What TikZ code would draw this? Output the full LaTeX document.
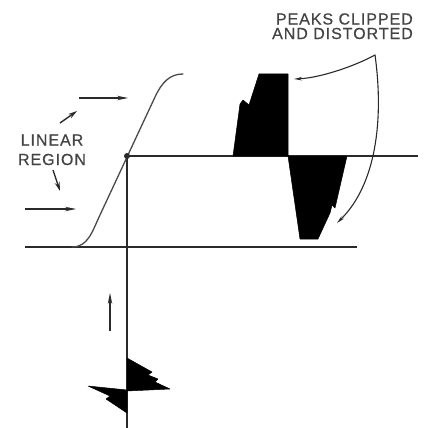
\documentclass[tikz,border=0pt]{standalone}
\usepackage{fontspec}
\newfontfamily\lblfont{Liberation Sans}[LetterSpace=6,FakeBold=0.6]
\usetikzlibrary{arrows.meta}
\definecolor{ink}{HTML}{2A2A2A}
\definecolor{txt}{HTML}{444444}
\tikzset{
  axis/.style={draw=ink, line width=1.1pt},
  curveline/.style={draw=ink!85, line width=1.3pt, line cap=round},
  pulse/.style={fill=black, draw=black, line width=0.5pt, line join=round},
  flowarrow/.style={draw=ink, line width=1.1pt, -{Stealth[length=11pt,width=4.5pt]}},
  thickarrow/.style={draw=ink, line width=1.4pt, -{Stealth[length=9pt,width=5pt]}},
  callout/.style={draw=ink, line width=1.1pt, line cap=round, -{Stealth[length=8pt,width=3.5pt]}},
  lbl/.style={text=txt, font=\lblfont\fontsize{16}{19}\selectfont, inner sep=0pt},
}
\begin{document}
\begin{tikzpicture}[x=1pt, y=-1pt]
\useasboundingbox (0,0) rectangle (431,428);
% coordinates
\coordinate (op) at (127,156);
\coordinate (baseL) at (25,247);
\coordinate (baseR) at (357,247);
\coordinate (upR) at (418,156);
\coordinate (vbot) at (127,428);
% axes / lines
\draw[axis] (baseL) -- (baseR);
\draw[axis] (op) -- (upR);
\draw[axis] (op) -- (vbot);
% transfer curve
\draw[curveline] (72,247) .. controls (88,247) and (92,232) .. (100,215) -- (155,97) .. controls (162,82) and (170,74) .. (183,74);
\fill[ink] (op) circle (3pt);
% horizontal arrows marking linear region
\coordinate (a1s) at (79,98); \coordinate (a1e) at (128,98);
\coordinate (a2s) at (25,209); \coordinate (a2e) at (76,209);
\draw[flowarrow] (a1s) -- (a1e);
\draw[flowarrow] (a2s) -- (a2e);
% label LINEAR REGION
\node[lbl] (lin) at (52,140) {LINEAR};
\node[lbl] (reg) at (52,159.5) {REGION};
\coordinate (s1s) at (60,123); \coordinate (s1e) at (77,111);
\coordinate (s2s) at (53,170); \coordinate (s2e) at (60,191);
\draw[thickarrow] (s1s) -- (s1e);
\draw[thickarrow] (s2s) -- (s2e);
% input arrow
\coordinate (ins) at (110,331); \coordinate (ine) at (110,293);
\draw[flowarrow] (ins) -- (ine);
% input waveform
\filldraw[pulse] (127,358) -- (152,372) -- (148,375) -- (158,379) -- (155,382) -- (170,389) -- (127,391) -- cycle;
\filldraw[pulse] (127,390) -- (88,386) -- (110,396) -- (106,399) -- (127,413) -- cycle;
% output waveform
\filldraw[pulse] (233,156) -- (240,104) -- (243,100) -- (249,105) -- (259,74) -- (288,74) -- (288,156) -- cycle;
\filldraw[pulse] (288,156) -- (300,239) -- (318,239) -- (330,213) -- (332,205) -- (335,208) -- (347,156) -- cycle;
% label PEAKS CLIPPED
\node[lbl, anchor=east] (pk1) at (413,19) {PEAKS CLIPPED};
\node[lbl, anchor=east] (pk2) at (413,33.5) {AND DISTORTED};
\coordinate (cs) at (375,55);
\coordinate (ct1) at (294,79);
\coordinate (ct2) at (337,223);
\draw[callout] (cs) .. controls (355,66) and (320,78) .. (ct1);
\draw[callout] (cs) .. controls (384,120) and (376,185) .. (ct2);
\end{tikzpicture}
\end{document}
